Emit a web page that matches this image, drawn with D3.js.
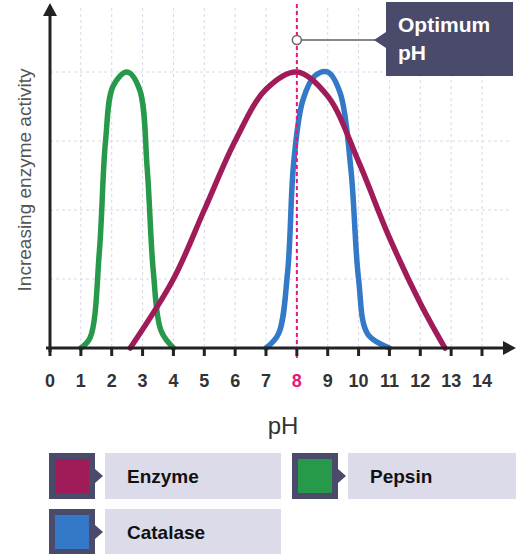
<!DOCTYPE html>
<html><head><meta charset="utf-8">
<script src="https://cdn.jsdelivr.net/npm/d3@7"></script>
<style>body{margin:0;background:#fff;font-family:"Liberation Sans",Arial,sans-serif}</style>
</head><body><svg width="530" height="554"></svg>
<script>
const pepsin = [[1,0],[1.3,0.15],[1.6,1.4],[1.8,3],[2.05,3.8],[2.5,4],[2.9,3.75],[3.15,2.6],[3.35,1.1],[3.6,0.25],[4,0]];
const enzyme = [[2.6,0],[4,1],[5,2],[6,3],[7,3.75],[8,4],[9,3.65],[10,2.7],[11,1.6],[12,0.65],[12.8,0]];
const catalase = [[7,0],[7.4,0.2],[7.7,1.1],[7.9,2.7],[8.2,3.6],[8.6,3.95],[9,4],[9.4,3.7],[9.75,2.6],[10,1],[10.3,0.2],[11,0]];
const ticks = d3.range(0,15);
const optimum = 8;
const legend = [["Enzyme","#a01c59"],["Pepsin","#27994a"],["Catalase","#3479c8"]];

const svg = d3.select("svg");
const x = d3.scaleLinear().domain([0,14]).range([50,482]);
const y = d3.scaleLinear().domain([0,4]).range([348,72]);

// grid
svg.selectAll(".vg").data(ticks.slice(1)).enter().append("line")
  .attr("x1",d=>x(d)).attr("x2",d=>x(d)).attr("y1",8).attr("y2",348)
  .attr("stroke","#d8d8e6").attr("stroke-dasharray","3,3");
svg.selectAll(".hg").data([1,2,3,4]).enter().append("line")
  .attr("x1",50).attr("x2",512).attr("y1",d=>y(d)).attr("y2",d=>y(d))
  .attr("stroke","#d8d8e6").attr("stroke-dasharray","3,3");

// curves
const line = d3.line().x(d=>x(d[0])).y(d=>y(d[1])).curve(d3.curveCatmullRom.alpha(0.5));
[[pepsin,legend[1][1]],[catalase,legend[2][1]],[enzyme,legend[0][1]]].forEach(([d,c])=>{
  svg.append("path").attr("d",line(d)).attr("fill","none").attr("stroke",c)
    .attr("stroke-width",5.5).attr("stroke-linecap","round");
});

// optimum line
svg.append("line").attr("x1",x(optimum)).attr("x2",x(optimum)).attr("y1",4).attr("y2",358)
  .attr("stroke","#e6197b").attr("stroke-width",2).attr("stroke-dasharray","4,3");

// axes
svg.append("line").attr("x1",46).attr("x2",510).attr("y1",348).attr("y2",348).attr("stroke","#222").attr("stroke-width",3);
svg.append("line").attr("x1",50).attr("x2",50).attr("y1",10).attr("y2",352).attr("stroke","#222").attr("stroke-width",3);
svg.append("path").attr("d","M503,341 L516,348 L503,355 Z").attr("fill","#222");
svg.append("path").attr("d","M43,16 L50,3 L57,16 Z").attr("fill","#222");
svg.selectAll(".tk").data(ticks).enter().append("line")
  .attr("x1",d=>x(d)).attr("x2",d=>x(d)).attr("y1",348).attr("y2",356)
  .attr("stroke","#222").attr("stroke-width",3);
svg.selectAll(".tl").data(ticks).enter().append("text")
  .attr("x",d=>x(d)).attr("y",387).attr("text-anchor","middle")
  .attr("font-size",18).attr("font-weight","bold")
  .attr("fill",d=>d===optimum?"#e6197b":"#333").text(d=>d);
svg.append("text").attr("x",283).attr("y",434).attr("text-anchor","middle").attr("font-size",24).attr("fill","#333").text("pH");
svg.append("text").attr("transform","translate(31,180) rotate(-90)").attr("text-anchor","middle")
  .attr("font-size",19).attr("fill","#555").text("Increasing enzyme activity");

// callout
svg.append("line").attr("x1",x(optimum)).attr("x2",380).attr("y1",40).attr("y2",40).attr("stroke","#888").attr("stroke-width",2);
svg.append("path").attr("d","M386,2 L513,2 L513,76 L386,76 L386,48 L374,40 L386,32 Z").attr("fill","#4a4a6a");
svg.append("circle").attr("cx",x(optimum)).attr("cy",40).attr("r",4.5).attr("fill","#fff").attr("stroke","#666").attr("stroke-width",1.5);
svg.append("text").attr("x",398).attr("y",32).attr("font-size",21).attr("font-weight","bold").attr("fill","#fff").text("Optimum");
svg.append("text").attr("x",398).attr("y",60).attr("font-size",21).attr("font-weight","bold").attr("fill","#fff").text("pH");

// legend
const pos = [[49,453],[292,453],[49,509]];
const lg = svg.selectAll(".lg").data(legend).enter().append("g")
  .attr("transform",(d,i)=>`translate(${pos[i][0]},${pos[i][1]})`);
lg.append("rect").attr("x",56).attr("y",0).attr("width",(d,i)=>i===1?168:176).attr("height",46).attr("fill","#dcdbea");
lg.append("path").attr("d","M0,0 L46,0 L46,16 L54,23 L46,30 L46,46 L0,46 Z").attr("fill","#4a4a6a");
lg.append("rect").attr("x",6).attr("y",6).attr("width",34).attr("height",34).attr("fill",d=>d[1]);
lg.append("text").attr("x",78).attr("y",30).attr("font-size",19).attr("font-weight","bold").attr("fill","#111").text(d=>d[0]);
</script></body></html>
